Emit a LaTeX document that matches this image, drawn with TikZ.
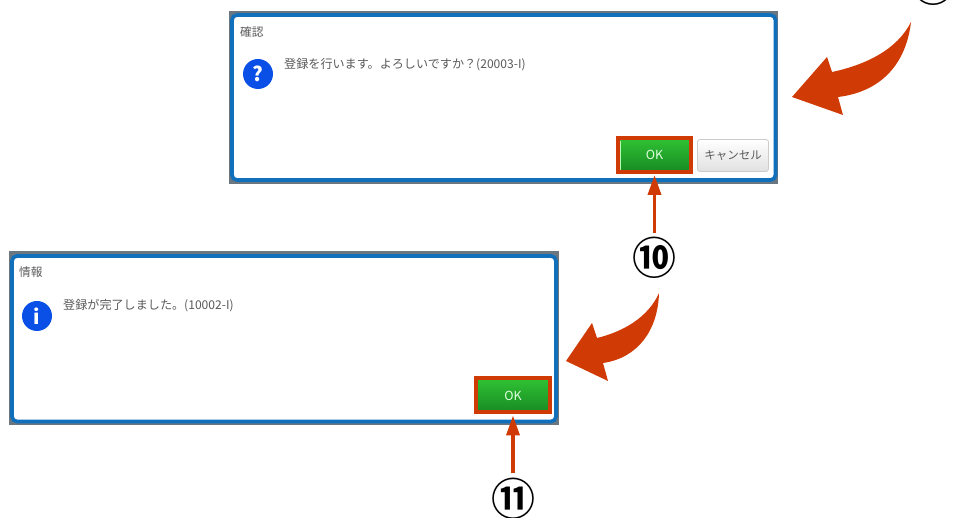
\documentclass[tikz,border=0pt]{standalone}
\usepackage{fontspec}
\usetikzlibrary{arrows.meta}
\setmainfont{Noto Sans CJK JP}
\newfontfamily\numfont{Noto Sans CJK JP Bold}
\definecolor{rd}{HTML}{CF3A05}
\definecolor{blu}{HTML}{1070BC}
\definecolor{gry}{HTML}{6A7680}
\definecolor{txt}{HTML}{5A5A5A}
\definecolor{icn}{HTML}{0A50E6}
\definecolor{gtop}{HTML}{30C233}
\definecolor{gbot}{HTML}{178A24}
\newcommand{\numglyph}[1]{\makebox[0pt]{\raisebox{-0.38em}[0pt][0pt]{#1}}}
\tikzset{
 dialogbox/.style={rectangle,draw=blu,line width=3.6pt,fill=white,rounded corners=5pt,inner sep=0pt,outer sep=0pt,anchor=north west},
 label/.style={anchor=west,inner sep=0pt,text=txt,font=\fontsize{11.7}{13}\selectfont},
 msg/.style={anchor=west,inner sep=0pt,text=txt,font=\fontsize{12.1}{14}\selectfont},
 okbtn/.style={rectangle,draw=rd,line width=4pt,top color=gtop,bottom color=gbot,inner sep=0pt,outer sep=0pt,text=green!12!white,font=\fontsize{12.5}{14}\selectfont,minimum width=73.5pt,minimum height=34pt},
 cancelbtn/.style={rectangle,draw=black!20,line width=.8pt,rounded corners=2.5pt,top color=white,bottom color=black!12,inner sep=0pt,text=txt,font=\fontsize{11.5}{13}\selectfont,minimum width=71pt,minimum height=32pt},
 iconmark/.style={circle,fill=icn,text=white,inner sep=0pt,minimum size=30pt,font=\fontsize{20}{22}\bfseries\selectfont},
 num/.style={circle,inner sep=0pt,outer sep=0pt,minimum size=42pt,text=black,font=\numfont\fontsize{44}{46}\selectfont},
 uparrow/.style={draw=rd,line width=3.6pt,-{Triangle[length=20pt,width=13pt]},shorten <=4pt,shorten >=3pt},
 bigarrow/.style={fill=rd,draw=none}
}
\begin{document}
\begin{tikzpicture}[x=1pt,y=-1pt]
\useasboundingbox (0,0) rectangle (954,518);
\clip (0,0) rectangle (954,518);
% upper dialog
\fill[gry] (229,11) rectangle (778,184);
\node[dialogbox,minimum width=543.5pt,minimum height=165pt] (dlg1) at (232,15) {};
\node[label] (title1) at (240,32) {確認};
\node[iconmark] (icon1) at (258,74) {?};
\node[msg] (msg1) at (284,65) {登録を行います。よろしいですか？(20003-I)};
\node[okbtn] (ok1) at (654.5,155) {OK};
\draw[white!70!green,line width=1pt] (620.5,141) -- (620.5,170);
\node[cancelbtn] (cancel1) at (733,155.5) {キャンセル};
% lower dialog
\fill[gry] (9,251) rectangle (559,425);
\node[dialogbox,minimum width=544pt,minimum height=165.5pt] (dlg2) at (12,256) {};
\node[label] (title2) at (19,272) {情報};
\node[iconmark] (icon2) at (37,316) {i};
\node[msg] (msg2) at (63,306) {登録が完了しました。(10002-I)};
\node[okbtn] (ok2) at (513,395.5) {OK};
% numbers
\node[num] (n9) at (933,-15) {\numglyph{⑨}};
\node[num] (n10) at (654.5,258) {\numglyph{⑩}};
\node[num] (n11) at (513,498.5) {\numglyph{⑪}};
% arrows
\draw[uparrow] (n10) -- (ok1);
\draw[uparrow] (n11) -- (ok2);
\path[bigarrow] (792,97) -- (827,57) -- (832,72) .. controls (865,65) and (897,50) .. (911,22)
  .. controls (906,65) and (880,92) .. (838,97) -- (843,115) -- cycle;
\path[bigarrow] (566,361) -- (592,323) -- (597,338) .. controls (622,332) and (648,318) .. (659,293)
  .. controls (658,330) and (638,358) .. (603,363) -- (608,381) -- cycle;
\end{tikzpicture}
\end{document}
